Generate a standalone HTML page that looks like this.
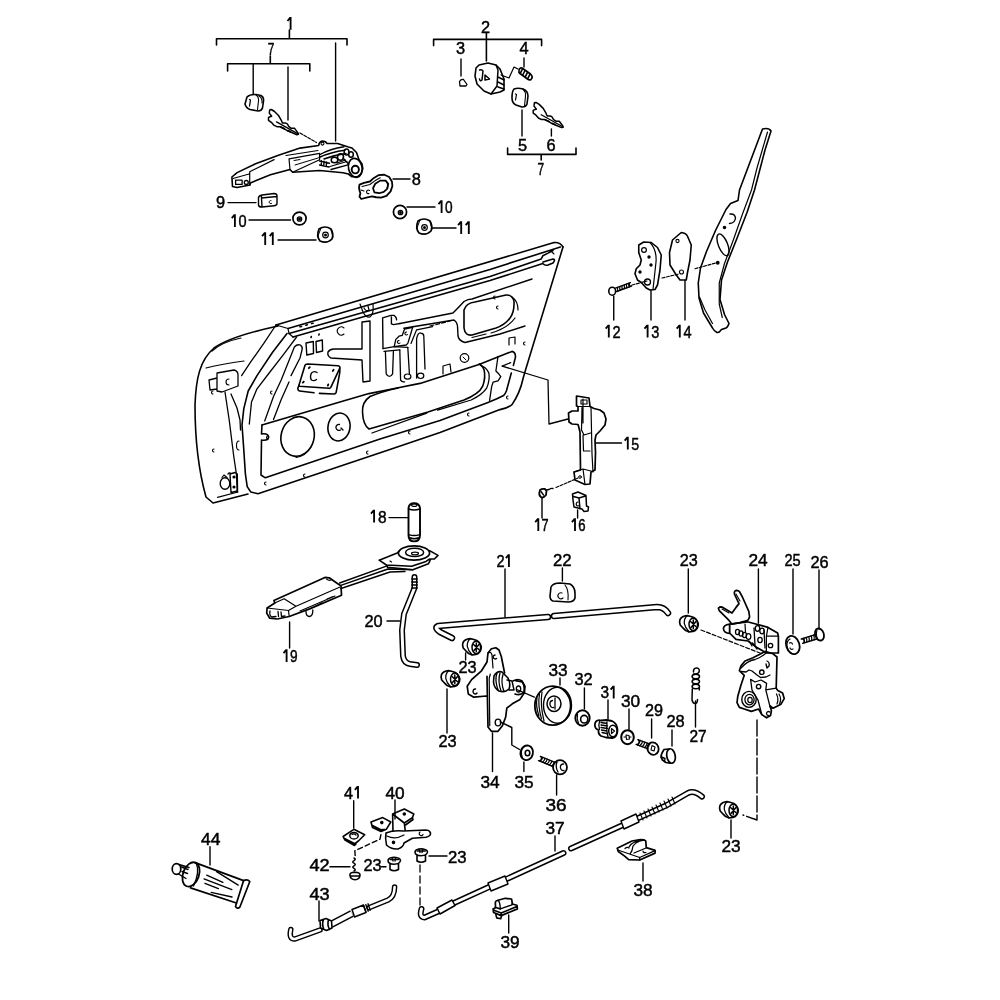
<!DOCTYPE html>
<html><head><meta charset="utf-8"><style>
html,body{margin:0;padding:0;background:#fff;width:1000px;height:1000px;overflow:hidden}
svg{display:block;will-change:transform}
text{font-family:"Liberation Sans",sans-serif;font-size:16.4px;fill:#000;stroke:#000;stroke-width:0.45px}
</style></head><body>
<svg width="1000" height="1000" viewBox="0 0 1000 1000">
<rect width="1000" height="1000" fill="#fff"/>
<g fill="none" stroke="#000" stroke-width="1.6" stroke-linejoin="round" stroke-linecap="round">
<!-- ===== Group 1: handle ===== -->
<path d="M216.5,45 V38.7 H347 V45 M289.4,30 V38.7"/>
<path d="M227.6,71 V63.7 H309.8 V71 M270.3,56 V63.7"/>
<path d="M253.2,64 V94 M288,67 V120 M335.6,43 V141" stroke-width="1.4"/>
<!-- key cap -->
<path d="M247,97 Q250,94 256,94.5 L261,95.5 Q264,97 263.5,101 L262.5,108 Q261.5,111 258,111 L250,109.5 Q246,108 245,104 Z"/>
<path d="M256,95 Q259,97 258.5,101 L257.5,109.5 M259,96 Q262.5,98 262,103" stroke-width="1.1"/>
<path d="M249.5,99.5 L250.5,100 L249.5,106" stroke-width="1.3"/>
<!-- key blade -->
<use href="#keyshape" transform="translate(-264.7,7.1)"/>
<path d="M300,133 L316.5,142.5" stroke-width="1.2" stroke-dasharray="3,1.5"/>
<!-- handle -->
<path d="M231.9,177 L232.5,186.5 L237,187.5 L250,185 L250.4,182.9 L270.4,174.8 L290,169.5 L292.6,172.3 L319.6,170.5 L343,172.75 L348.4,174 L352,176.8 L357.4,176.8 L361,174 L362.8,168.7 L362,164 L359,159.7 L356.5,152.5 L352,148 L348.4,147 L343,145.3 L337.6,143.5 L327,143.5 Q326,141 322,141 Q319,142 318.7,145.5 L300,148.1 L277.8,155.5 L255.6,163.7 L237.1,172.6 Z"/>
<path d="M233,178.5 L249,174 M249.7,172 L249.7,184.5 M249.7,171.8 L274.1,159.6 M286,155.5 L318,150.5 M289,158.8 L319.6,153.4 L319.6,159.7 L292.6,172.3 M289,158.8 L290,169.5" stroke-width="1.2"/>
<path d="M295,165 L318,158 M294,160.5 L300,159.5" stroke-width="1"/>
<path d="M235.6,180.2 h6.5 v4.2 h-6.5 z" stroke-width="1.3"/>
<circle cx="246.3" cy="182.5" r="2" stroke-width="1.3"/>
<ellipse cx="355.3" cy="167.8" rx="6.8" ry="9.6" transform="rotate(-12 355.3 167.8)" stroke-width="1.7"/>
<ellipse cx="355.3" cy="169.6" rx="3.6" ry="3.8" stroke-width="1.9"/>
<path d="M320,154.5 Q330,149 344,146.8 M319,157.5 Q331,152 345,150.3 M324,159 Q334,155 346,153.5" stroke-width="1.4"/>
<ellipse cx="346.5" cy="152" rx="2.4" ry="3" stroke-width="1.5"/>
<ellipse cx="351" cy="154.5" rx="2.3" ry="2.8" stroke-width="1.5"/>
<ellipse cx="340.5" cy="157" rx="3" ry="3.3" stroke-width="1.5"/>
<ellipse cx="334.5" cy="160" rx="3.3" ry="2.8" stroke-width="1.5"/>
<path d="M319.5,161 L329.5,163.2 M319.5,165 L329,167 M321.5,160.8 L321.2,165.3 M324,161.3 L323.8,165.8 M326.5,161.9 L326.3,166.3" stroke-width="1.4"/>
<path d="M330,166.5 L347,161.5 M331,169.5 L348,164.8 M343,158 L348,163.5 M337,163 L345.5,160" stroke-width="1.3"/>
<circle cx="322.5" cy="143.6" r="1.5" stroke-width="1.1"/>
<!-- part 8 -->
<path d="M393,179 H410" stroke-width="1.4"/>
<path d="M359.5,184.7 L364,182.9 L369.9,181.5 L373.9,177.9 L378.4,175.2 L384.3,174.75 L389.2,177 L391.9,181.5 L392.4,186 L390.6,191.4 L386.5,195.9 L381.1,197.7 L376.2,197.25 L372.1,196.35 L366.3,197.7 L361.3,199 L359.5,196.8 L360.4,193.2 L359.5,190.5 L359,187.4 Z" stroke-width="1.8"/>
<path d="M373,188.25 L375.25,183.75 L380.2,180.6 L385.6,180.6 L388.3,183.75 L387.4,188.7 L383.8,191.85 L379.3,193.2 L374.35,192.3 Z" stroke-width="1.7"/>
<path d="M362,186.5 L369.9,184.5 L375.25,180.6 L380.2,177.8 M386,181 Q388.5,184 387,188" stroke-width="1.1"/>
<path d="M369.5,190.5 A1.8,1.8 0 1 0 369,193.5 M361,190 L364,191" stroke-width="1.1"/>
<!-- part 9 -->
<path d="M228,202.6 H256" stroke-width="1.4"/>
<path d="M258.5,197.5 Q259,195.5 262,195 L274,193.5 Q277,193.5 277,196 L277,203.5 Q277,205.5 274,205.8 L262,207 Q259,207.3 258.5,205 Z M262,195 Q261,196.5 261.5,198 L262,207 M261.5,198 L276.5,196.5" stroke-width="1.4"/>
<path d="M271,200.5 A1.6,1.6 0 1 0 271.5,203.5" stroke-width="1"/>
<!-- washers/nuts -->
<path d="M249,220 H290.5 M278,240 H316 M407,207 H435 M432,228 H456" stroke-width="1.4"/>
<ellipse cx="299.5" cy="218.5" rx="6.6" ry="6.4" stroke-width="1.7"/>
<circle cx="299.5" cy="219" r="2.2" stroke-width="1.3"/>
<circle cx="299.5" cy="219" r="0.7" fill="#000"/>
<ellipse cx="400" cy="212" rx="6.6" ry="6.6" stroke-width="1.7"/>
<circle cx="400.5" cy="212.5" r="2.2" stroke-width="1.3"/>
<circle cx="400.5" cy="212.5" r="0.7" fill="#000"/>
<path d="M319,229 Q325,225 331,229 Q334,234 332,239 Q327,244 320,241 Q316,236 319,229 Z" stroke-width="1.7"/>
<path d="M321,228 L318,236 M331,230 L333,237" stroke-width="1"/>
<circle cx="325.5" cy="235" r="2.8" stroke-width="1.2"/>
<circle cx="325.5" cy="235" r="0.7" fill="#000"/>
<path d="M418,221 Q424,217 430,221 Q433,226 431,231 Q426,236 419,233 Q415,228 418,221 Z" stroke-width="1.7"/>
<path d="M420,220 L417,228 M430,222 L432,229" stroke-width="1"/>
<circle cx="424.5" cy="227.5" r="2.8" stroke-width="1.2"/>
<circle cx="424.5" cy="227.5" r="0.7" fill="#000"/>
<!-- ===== Group 2: lock ===== -->
<path d="M433.6,45.6 V39.4 H541.6 V45.6 M486.4,33 V39.4 M486.4,39.4 V61"/>
<path d="M461,59 V76 M524,58 V67 M522,110 V136 M551.4,129 V136" stroke-width="1.4"/>
<path d="M507.6,148 V154.4 H576 V148 M541.2,154.4 V160"/>
<path d="M460,86 L459.5,81.5 Q461,79 463.5,79.5 L467,84.5 L466,86 Z" stroke-width="1.3"/>
<path d="M476,68 L479,65 L488,63 L496,65 L500,69 L504,79 L504,90 L500,92 L491,94 L484,91 L477,84 L475,76 Z"/>
<path d="M479.5,70 Q482,69 483,71 L482,80 Q480,82 479.5,79 M485,75 L489.5,79 L485,80 Z M496,65 L498,70 L497,86 L491,94 M498,77 L504,80 M498,82 L504,85 M498,87 L504,89" stroke-width="1.5"/>
<path d="M501,75 L509,78 L514,67 L518,69" stroke-width="1.2"/>
<path d="M519,70.5 Q519.5,67.5 522,68 L530.5,74 Q533.5,77 531,79.5 Q529.5,80.5 527.5,79 L520,73.5 Q518.5,72.5 519,70.5 Z" stroke-width="1.7"/>
<path d="M522.5,68.8 L520.5,72.8 M525,70.5 L523,74.5 M527.5,72.3 L525.5,76.3 M530,74.2 L528,78.2" stroke-width="1.6"/>
<path d="M514,89 Q518,87.5 523,89 Q528,91 528,96 L527,104 Q526,107 522,107 L516,105 Q512,103 512,98 Q512,91 514,89 Z"/>
<path d="M523,89 Q526,92 525.5,96 L524.5,106" stroke-width="1.1"/>
<path d="M515.5,94 L516.5,94.5 L515.5,100" stroke-width="1.2"/>
<g id="keyshape"><path d="M534.4,102.8 L536,102.4 L539.2,104.4 L543.2,108.4 L546,113.2 L547.2,116 L550.4,116 L552,116.8 L553.6,119.6 L556,121.2 L559.2,121.2 L560.4,122.8 L562.8,126 L563.2,127.2 L561.6,127.6 L556,125.2 L552,123.6 L548,121.2 L544.8,119.6 L541.6,119.6 L538.4,118 L536,115.2 L533.2,113.2 L533.2,110.4 L534.8,109.6 L536.4,109.2 L535.2,107.6 L534,106 Z" stroke-width="1.5"/><path d="M541.2,114.8 L562.8,126.8" stroke-width="1.3"/><path d="M545.5,120 L549,121.5 M552.5,123.5 L555,124.5" stroke-width="1.8"/></g>
<!-- ===== pillar + 12-14 ===== -->
<path d="M762.5,129 Q769,127.5 771,131 L765,150 L754.5,190 L747,212.5 L736.5,239.5 L727.5,262 L721.5,280 L720,299.5 L724.5,314.5 L729,323.5 Q727.5,327.5 726,328 L721.5,329.5 Q719,333 717,332.5 Q714,331 712.5,328 L703.5,313 L699,298 L698.25,283 L700.5,268 L706.5,251.5 L715.5,230.5 L726,209.5 L730.5,203.5 L738,200.5 L739.5,190 Z" stroke-width="1.6"/>
<path d="M767.5,132 L757,168 L751.5,190 L742.5,214 L733.5,239.5 L724.5,263.5 L719.25,283 L719.25,304 L722.25,317.5 M699.5,297 L705,310 L712.5,323.5" stroke-width="1.2"/>
<path d="M730,214 Q735,213.5 735.5,218 Q735,223 729.5,223.5" stroke-width="1.4"/>
<ellipse cx="723" cy="244.8" rx="4.6" ry="11.6" transform="rotate(-22 723 244.8)" stroke-width="1.4"/>
<circle cx="724.5" cy="227.5" r="1" fill="#000"/>
<circle cx="717.75" cy="262.75" r="1.1" fill="#000"/>
<path d="M672.5,240 L681.25,232.5 Q686,233 687.5,236.25 L691.25,245 L690,260 L687.5,272.5 L686.25,280 L680,280 L676.25,275 L670,265 L669.5,252.5 Z"/>
<circle cx="677.5" cy="241" r="1.6" stroke-width="1.1"/>
<circle cx="681.5" cy="272" r="2" stroke-width="1.1"/>
<path d="M638.75,245 L643.75,242 L651.25,242.5 L657.5,247.5 L661.25,255 L660,270 L657.5,285 L655,289.5 L650,290 L646.25,288 L641.25,282.5 L637.5,280 L635,273.75 L636.25,268.75 L640,265 L641.25,260 L638.75,252.5 Z"/>
<path d="M650,242.5 Q657,250 656,262 L653,289.5" stroke-width="1.2"/>
<circle cx="644" cy="250" r="2.4" stroke-width="1.2"/>
<circle cx="647.5" cy="282" r="3" stroke-width="1.3"/>
<circle cx="649" cy="257" r="0.9" fill="#000"/><circle cx="651" cy="265" r="0.9" fill="#000"/><circle cx="640" cy="272" r="0.9" fill="#000"/>
<path d="M632,285 L647,281 M662,278 L679,274 M695,268.75 L717.5,262.5" stroke-width="1.2" stroke-dasharray="3,1.5"/>
<path d="M613.75,296 V320 M651,290.5 V320 M685,280.5 V320" stroke-width="1.4"/>
<!-- ===== part 15-17 ===== -->
<path d="M502.2,366.1 L548,380 L549,424 L568,419" stroke-width="1.3"/>
<path d="M596,443 H621.5" stroke-width="1.4"/>
<path d="M576.5,396 L589,398 L590,406.5 L591,407 L594,408.5 L600,410 L604,413 L606,419 L605,425 L600,431 L596,435 L595,440 L595.5,453 L595,470 L591,472 L590,484 L585,484.5 L575,480 L574,472 L580.5,470 L580,432 L578.5,426 L578,424.5 L572,424 L569,422 L568.5,413 L572,411 L578,411 L578,406.5 L576.5,406 Z" stroke-width="1.7"/>
<path d="M578,406.5 L590,406.5 M591,407 L592,454 L593,472 M582,407.5 L581.5,430 L584,435 L590.5,433 M583,399 L583,423 M583,435 L583.5,451 L590,451 M574,472 L583,469 L591,471 M583,469 L585,484.5" stroke-width="1.2"/>
<path d="M581,400 L587,400 L587,404 L581,404 Z" stroke-width="1.1"/>
<circle cx="580" cy="477" r="1.3" stroke-width="1"/>
<path d="M540,490 Q542,488.5 545,489 L546.5,491 L546,495 Q544,497.8 541.5,497.5 Q539,496 539.3,493 Z" stroke-width="1.8"/>
<path d="M541,491.5 L543.5,495 M546.5,490 L549,489.5 Q551,488 553,488.5" stroke-width="1.3"/>
<path d="M556,487.5 L578,478" stroke-width="1.2" stroke-dasharray="3,1.5"/>
<path d="M542,498 V518 M577.6,510 V518" stroke-width="1.4"/>
<path d="M572.5,494 L578,492 L586,495.5 L586.5,506 L588.5,507 L588,511 L584,511.5 L582,509 L574,507 L573,500 Z M573.5,496.5 L579,498 L585.5,496 M579,498 L580,509" stroke-width="1.5"/>
<path d="M578,502 a1.6,2 0 1 0 0.5,3.8" stroke-width="1.2"/>
<!-- ===== DOOR ===== -->
<!-- outer skin -->
<path d="M278,326 C255,331 228,338 214,348 C200,360 196,378 195,405 C195,440 199,472 206,497 L213,503 L217,502 L248,494"/>
<path d="M212,351 Q222,342 241,338 M206,368 Q222,364 244,361 M217.5,497.4 L238,492" stroke-width="1.2"/>
<!-- top frame lines -->
<path d="M276,325 L554,242.6 Q560,242 563,247 M288,328.5 L490,269.4 L560.4,247 M289,333.5 L490,276.6 L541.2,259 L542.8,255.8 L547.6,253.4 L553,250.5 M293,337 L490,280.6 L542.8,263.5 Q545,266 548,265 L553,263 Q556,259 553,259 L543,262"/>
<path d="M276,325 L288,328.5 L289,333.5 L293,337" stroke-width="1.2"/>
<path d="M551,251 L554,254" stroke-width="1.1"/>
<!-- right edge and bottom -->
<path d="M563,247 L525.5,370 L523.2,378 Q520,393 512,404.6 Q507,408.5 500,409.6 L440,432.4 L388.4,450 L258,493.8 L250.8,492 L247.2,486.6 L245.4,474 L243.6,447 L242,425 L243.8,408.6 L248.2,391 L257,375.6 L272.4,352.5 L287,333.5"/>
<path d="M276,325 L263.6,343.7 L250.4,362.4 L241.6,375.6 M225,392 L229.2,420 L233.7,456 L236.4,474 L237.3,492 M231,394 L237,408 L240,420 L240.5,430" stroke-width="1.3"/>
<path d="M296.6,337 L283.4,354.7 L268,374.5 L257,388.8 L251.5,402 L249.3,424" stroke-width="1.3"/>
<!-- hinges -->
<path d="M217,373 L234,370 Q238,371 238,375 L238,386 L222,392 L217,391 Z M209,380 L217,378 L217,389 L210,390 Z" stroke-width="1.3"/>
<path d="M229,379 A3,3 0 1 0 229,385" stroke-width="1.1"/>
<path d="M230,474 L235,472.5 L237.3,474 L237.5,491 L231,492.5 Z M231,473.5 Q229,472 228,474" stroke-width="1.4"/>
<ellipse cx="225" cy="483.5" rx="4.8" ry="5.8" stroke-width="1.4"/>
<path d="M222,477.5 L224,475 L227,477.5" stroke-width="1.2"/>
<circle cx="234" cy="477" r="0.8" fill="#000"/><circle cx="234" cy="487" r="0.8" fill="#000"/>
<!-- slot near pillar -->
<path d="M264.7,421 L273.5,396.5 L281.2,380 L290,358 L294.4,347 Q297,344 300.4,345 Q303,347 302,350 L300,358 L291,375.6 M289,382 L281,400 L273.5,419.6" stroke-width="1.3"/>
<!-- lower panel with speaker -->
<path d="M262,425 L261.5,434 Q268,433 268.7,437 Q268,441 261.5,440 L261,475 L265.3,477.8 L380,439 L440,420.4 L488,402.4 Q498,398.5 503.6,395.5 Q505,394.5 506.4,391 L511.3,373"/>
<path d="M262,425 L345,400.4 L369,393.6 L394.5,388.5 L420,383.4 L479,364.5 L512,351.4 Q515.5,352 515.5,357 L513.4,365.4"/>
<ellipse cx="297.6" cy="436.5" rx="16.5" ry="20" transform="rotate(15 297.6 436.5)"/>
<path d="M311,447 Q306,456 296,457.5" stroke-width="1.1"/>
<ellipse cx="339" cy="427" rx="11" ry="14" transform="rotate(10 339 427)"/>
<path d="M339.5,424.5 A3,3 0 1 0 340.5,430 M341,428 l2,2" stroke-width="1.3"/>
<!-- big oval -->
<path d="M398,388 Q382,391.5 370,396.5 Q362,402 362.5,412 Q363,425 369,429 L428,412 L464,400 Q479,394 482.6,386.4 Q486,377 484,369.6 Q482,365 479,364"/>
<path d="M372,433 L426.8,413.2 M437.6,410.2 L471.2,400 Q483,394 486.8,387.8 Q490,380 488.9,373.1 Q486,367 480.5,365.4" stroke-width="1.3"/>
<path d="M498,356.3 L495.9,371 L498.7,373.8 L500.8,376.6 L498,380.8 L493.1,382.2 L491.7,386.4 L489.6,400.4" stroke-width="1.3"/>
<path d="M502.2,366.1 L510.6,362.6" stroke-width="1.3"/>
<!-- T cutout -->
<path d="M362,322 L370,321 L370,381 L363,382 L362,360 L331,358 Q327,356 328,352 Q330,349 334,349 L362,349 Z" stroke-width="1.4"/>
<!-- clip on top frame -->
<path d="M360,304 L363,312 Q366,318 370,317 Q374,314 373,304 M364,308 Q366,312 369,310 M368,306 L369,310" stroke-width="1.2"/>
<!-- mirror plate -->
<path d="M305,365.2 Q306,364 308,364 L338,365.8 Q340.5,366.5 339.8,368.2 L330.8,387.4 Q330,388.5 329,388.3 L299.6,386.2 Q298.6,385.6 299,385 Z" stroke-width="1.6"/>
<path d="M299,385 L297.8,388.6 Q298,390.8 299.6,391 L314,392.8 M319.4,393.4 L333.8,394 Q335.8,393.8 336.2,392.2 L339.8,372.4 L339.8,368.2" stroke-width="1.6"/>
<path d="M317,372.5 Q314,370.5 311.5,373 Q309.5,377 311.5,380 Q314,381.5 316.5,379.5" stroke-width="1.4"/>
<path d="M308.8,368.2 l1,-1 M332.8,371 l0.8,-1.2 M302.8,382.6 l1,-1 M327.8,385.6 l0.5,-1.2" stroke-width="1.8"/>
<!-- small rects -->
<path d="M306,343 L313.3,341.5 L313.5,353.5 L306.8,355 Z M316,341.5 L322.3,340 L322.6,351 L316.5,352.5 Z" stroke-width="1.4"/>
<path d="M311,337.5 l0.3,-1 M318.8,335 l0.3,-1 M300,326.8 l1.5,-0.4 M305.8,325.2 l1.5,-0.4 M311.6,323.6 l1.5,-0.4" stroke-width="1.6"/>
<path d="M344,328 A4,4 0 1 0 344,334" stroke-width="1.1"/>
<!-- window regulator bracket -->
<path d="M383,348.6 L382.6,317.8 L391,315.4 L394.2,315.4 L396.2,317.8 L396.6,319.8 M391.4,317 L391.4,323.8 L393.4,324.6 L400,323.5" stroke-width="1.4"/>
<path d="M394.2,346.6 L395.8,339.4 L399,336.2 L402.2,335.4 L404.6,329 L412.6,327.4 L411,333 L407.8,343.4 L406.2,345 Z" stroke-width="1.3"/>
<path d="M406.5,332 a1.5,1.5 0 1 0 1,2.5 M399,340.5 a1.5,1.5 0 1 0 1,2.5" stroke-width="1.1"/>
<path d="M383,348.6 L394.2,346.6 L407.8,347.4 M384,351.4 L399.8,349.8 M411,343.4 L416.6,329.8 L432.6,326.6" stroke-width="1.2"/>
<path d="M385.4,351.4 L386.2,373.8 Q389.4,379 392.6,373.8 L393.4,351.4 M399.8,349.8 L400.6,380.2 Q402,382.5 404.6,381.8 M407.8,347.4 L409.4,373.8 M416.6,378 L416.6,338.6 Q418,332.5 420.6,333 Q423.8,333.5 423.8,336 L425,369" stroke-width="1.3"/>
<ellipse cx="407.6" cy="376.6" rx="3.3" ry="2.6" stroke-width="1.2"/>
<ellipse cx="420.6" cy="375.8" rx="3.2" ry="2.7" stroke-width="1.2"/>
<!-- upper oval (window) -->
<path d="M464,310 Q466,303 475,302 L506,295 Q512,294.5 514,301 Q514.5,312 510,318 Q505,325 496,328 L472,335 Q465,336 464,328 Z"/>
<path d="M400,323.5 L453,313 Q460,306 464,301.5 Q468,299 472,299 L532,279 M403.8,328.2 L454,320 Q457,322 457.5,326 L458,336 Q459,341 465,342.5 L500,334 L525,326" stroke-width="1.4"/>
<path d="M512,297 Q518,301 518,310 M515,318 Q508,328 491,333 M472,337.5 L486,334" stroke-width="1.2"/>
<path d="M430,326 L450,321" stroke-width="1.2" stroke-dasharray="4,2"/>
<!-- misc holes -->
<circle cx="464.5" cy="358" r="4.3" stroke-width="1.2"/>
<path d="M463,357 l3,3" stroke-width="1"/>
<path d="M443,374 L443,366 L450,364 L451,372" stroke-width="1.2"/>
<path d="M509,345 L509,338 L515,337 L515,344" stroke-width="1.2"/>
<!-- small c marks -->
<path d="M213,391 a1.5,1.5 0 1 0 0,3 M214,449 a1.5,1.5 0 1 0 0,3 M272,391 a1.5,1.5 0 1 0 0,3 M268,436 a1.5,1.5 0 1 0 0,3 M266,482 a1.5,1.5 0 1 0 0,3 M305,474 a1.5,1.5 0 1 0 0,3 M368,451 a1.5,1.5 0 1 0 0,3 M410,431 a1.5,1.5 0 1 0 0,3 M469,413 a1.5,1.5 0 1 0 0,3 M508,396 a1.5,1.5 0 1 0 0,3 M495,296 a1.5,1.5 0 1 0 0,3 M498,306 a1.5,1.5 0 1 0 0,3 M525,342 a1.5,1.5 0 1 0 0,3 M239,441 a2.5,4.5 0 1 0 0,9" stroke-width="1.1"/>
<defs>
<g id="bush" fill="none" stroke="#000" stroke-linejoin="round" stroke-linecap="round">
 <path d="M1,4.5 Q3,1 8,0.7 L12,1.5 Q18,3 19.3,9 Q19,15 14,16.5 L10,16.8 Q6,16 4,13 L1.2,10 Q0,7 1,4.5 Z" stroke-width="1.7"/>
 <path d="M8,0.7 Q4.8,4 5.3,8.5 Q6,12.5 10,16.8" stroke-width="1.3"/>
 <ellipse cx="14.3" cy="9.3" rx="4.3" ry="6.3" stroke-width="1.5"/>
 <path d="M11.5,6.5 L16.8,11.5 M12,12.5 L17,6.5 M14.3,5 V13.5" stroke-width="1.5"/>
</g>
</defs>
<!-- ===== 18,19,20 ===== -->
<path d="M389,517.6 H408 M289.6,622 V648 M387,621 H400" stroke-width="1.4"/>
<path d="M408.5,508 Q409,503.2 414,503.2 Q419.5,503.2 420,508 L420,535 Q420,541.4 414,541.4 Q408.5,541.4 408.5,535 Z" stroke-width="1.9"/>
<path d="M408.7,509 Q414,511 419.8,509 M408.7,534.6 Q414,536.5 419.8,534.6 M409.5,537.8 Q414,539.5 419,537.8" stroke-width="1.5"/>
<ellipse cx="414.3" cy="505.2" rx="2.7" ry="1.2" stroke-width="1.2"/>
<!-- 19 lever -->
<path d="M273.9,600.4 L324.9,577.4 L329.2,577.8 L338.5,584.2 L341,585.9 L341.5,595.3 L309.6,608.9 L289.2,616.5 L277.3,619 L269.7,618.2 L266.7,613.1 L267.1,608 L274.8,603 Z" stroke-width="1.7"/>
<path d="M267.1,608 L288.5,610.5 L289.2,616.5 M274.8,603 L284.1,598.7 L296,606.3 L288.5,610.5 M296,606.3 L340,587 M300,611 L335,596 M316,606 L322,603 M327,599 L333,596.5 M326.5,579 Q329,581 331,580" stroke-width="1.2"/>
<path d="M270,611 Q269,616 272,617 L276,616.5 M278,611.5 L278.5,616.5 M281,612 L281.5,616.5 L285,616" stroke-width="1.3"/>
<path d="M306,611.5 Q306,616.5 309.5,616.5 Q313,616 312.8,610" stroke-width="1.3"/>
<path d="M339.6,583 L386.4,566.2 M340.8,585.4 L388,569 L412.8,569.8 M341,588.5 L390,572 L405,571.5" stroke-width="1.4"/>
<path d="M379.2,560.2 L397.2,553 L399.6,550.6 M429.6,550.6 L438,555.4 L434.4,559 L430.8,559 M379.2,560.2 L386.4,565 L411.6,566.2 L426,561.4 L429.6,559 M386.4,565 L387.6,567.4 L412.8,569.8 L428.4,563.8 L430.8,559" stroke-width="1.6"/>
<ellipse cx="414" cy="553" rx="15.6" ry="7.2" stroke-width="1.7"/>
<ellipse cx="414.6" cy="552.4" rx="9" ry="4.2" stroke-width="1.5"/>
<ellipse cx="415" cy="553.5" rx="3.5" ry="1.3" stroke-width="1.2"/>
<path d="M390,561 l1.5,1" stroke-width="1.2"/>
<!-- rod 20 tube -->
<path d="M414.5,577 L414.5,588 L404,614 L402,630 L403,656 Q404,663 410,664 L417,665" stroke="#000" stroke-width="6" stroke-linecap="round"/>
<path d="M414.5,577 L414.5,588 L404,614 L402,630 L403,656 Q404,663 410,664 L417,665" stroke="#fff" stroke-width="3" stroke-linecap="round"/>
<path d="M411.8,579 h5.4 M411.8,582 h5.4 M411.8,585 h5.4 M411.8,588 h5.4" stroke-width="1.4"/>
<!-- ===== 21 rod ===== -->
<path d="M505,569 V617 M562.4,568 V581" stroke-width="1.4"/>
<path d="M452,638 L440,632 Q434,628 438,626 L548,617 M554,616 L657,607 Q664,607 668,613" stroke="#000" stroke-width="6.5"/>
<path d="M452,638 L440,632 Q434,628 438,626 L548,617 M554,616 L657,607 Q664,607 668,613" stroke="#fff" stroke-width="3.5"/>
<!-- 22 block -->
<path d="M551,587 Q553,583 560,583 L570,584 Q575,587 575,593 L575,598 Q574,602 568,602 L553,601 Q550,600 550,596 Z"/>
<path d="M565,585 Q569,590 568,600 M562,593 A3,3 0 1 0 563,598" stroke-width="1.1"/>
<!-- bushings 23 -->
<use href="#bush" x="462" y="638"/>
<use href="#bush" x="440.5" y="670"/>
<use href="#bush" x="679" y="615"/>
<use href="#bush" x="719" y="801"/>
<path d="M465.6,653 V660 M447,689 V733 M688.3,569 V613 M731,820 V838" stroke-width="1.4"/>
<path d="M701,630 L760,653" stroke-width="1.2" stroke-dasharray="4,2"/>
<!-- ===== 34 plate, 33 pulley ===== -->
<path d="M488,653 L491.4,648.8 L495.8,647.7 L499,650 L501.3,656.5 L503.5,667.5 L504.6,673 M488,653 L487,662 L481.5,670.8 L471.6,679.6 L467.2,686.2 L468.3,694 L473.8,697.2 L486.5,696 M487,676.3 L488,727 L491.4,731.3 L498,731.3 L502.4,725.8 L505.7,717 L506.8,708.2 L512.3,703.8 L520,699.4 L524.4,692.8 L525,686.2 L522.2,681.8 L515.6,680.7" stroke-width="1.7"/>
<path d="M490.3,674 L489.2,678.5 L489.75,725.8 M488,653 Q491,651 492,655 L493,668" stroke-width="1.2"/>
<path d="M495,655 a2,2 0 1 0 1.5,3.5 M475.5,689 a2.2,2.5 0 1 0 1.5,4 " stroke-width="1.4"/>
<ellipse cx="498" cy="722.5" rx="2.8" ry="3.4" stroke-width="1.4"/>
<path d="M500.2,721.8 L511.8,727.5 L511.8,745 L519.5,749.5" stroke-width="1.4"/>
<!-- shaft assembly -->
<path d="M494,676 Q497,670.5 502,672 L508,678 Q511,684 509,689 Q505,693 499,691 Q494,688 493.5,682 Z" stroke-width="1.6"/>
<path d="M497,673 Q494.5,680 498,690 M500,673 Q497.5,681 501,691 M503,674.5 Q500.5,682 504,691.5" stroke-width="1.3"/>
<path d="M507,680 L512,681 L514,690 L509,690" stroke-width="1.4"/>
<path d="M513,681 Q518,678 522,681 Q525,686 524,692 Q520,696 515,694" stroke-width="1.6"/>
<ellipse cx="518.5" cy="689" rx="2.2" ry="3" stroke-width="1.3"/>
<path d="M516.7,689.5 L534.3,697.2" stroke-width="1.3"/>
<ellipse cx="552.75" cy="705.7" rx="17.9" ry="19.5" stroke-width="1.8"/>
<ellipse cx="557.5" cy="705.2" rx="14" ry="18" stroke-width="1.4"/>
<ellipse cx="554" cy="703.8" rx="7" ry="7.7" stroke-width="1.5"/>
<path d="M552.5,700.5 A3,3.5 0 1 0 553.5,707.5 M555,698 L555,709" stroke-width="1.3"/>
<path d="M537,698 Q535.5,706 539,716 M539.5,694 Q537.5,705 541.5,719 M542,692 Q540,705 544,721" stroke-width="1.2"/>
<path d="M560,678 V685 M584.4,688 V709 M608,700 V719" stroke-width="1.4"/>
<!-- 32 nut -->
<ellipse cx="582.5" cy="718" rx="7.2" ry="7.7" stroke-width="1.9"/>
<ellipse cx="584.2" cy="719.2" rx="3.6" ry="3.8" stroke-width="1.6"/>
<path d="M577.5,714 Q576.5,719 578.5,723" stroke-width="1.2"/>
<!-- 31 -->
<path d="M596,721.5 Q598,719.5 601,720.5 L606.5,720 L612,721 Q617,723 617.5,730 Q617.5,737 612.5,738 L606,737.5 L601,736 Q598,734 598.5,730 Q595,729 594.8,725 Q595,722.5 596,721.5 Z" stroke-width="1.8"/>
<path d="M599.7,721 Q598,725 599.5,729.5 M601,722.5 L607,723.5 M601,725 L607.5,726 M601,727.5 L607.5,728.5 M601.5,730 L607,731 M602,732.5 L606.5,733.5 M607,722 Q606,730 608,737" stroke-width="1.3"/>
<ellipse cx="612.9" cy="731" rx="4.2" ry="5.8" stroke-width="1.5"/>
<path d="M611.5,728.5 L614.5,731 L611.5,733.5 Z" stroke-width="1.2"/>
<!-- 34/35 leaders -->
<path d="M492.5,733 V771.5 M523.9,762 V771.5" stroke-width="1.4"/>
<ellipse cx="526.7" cy="752.8" rx="6.2" ry="7.4" transform="rotate(15 526.7 752.8)" stroke-width="1.9"/>
<ellipse cx="527.5" cy="753" rx="2.3" ry="2.8" stroke-width="1.6"/>
<path d="M522,749 Q520.5,753 522.5,758" stroke-width="1.2"/>
<path d="M556.6,775 V795" stroke-width="1.4"/>
<!-- ===== latch 24 ===== -->
<path d="M758.4,569 V623 M793,569 V634 M819,570 V629 M695.5,701 V727 M672,730 V746 M651.6,719 V738 M629,709 V730" stroke-width="1.4"/>
<path d="M757,720 V820 L743,815" stroke-width="1.4" stroke-dasharray="16,3"/>

<!-- fork lever -->
<path d="M718.4,608.2 L720,606.8 L722.4,607.2 L732,613 L736,607.4 L739,603.6 L734.4,594 Q734,590.6 736.4,590.4 Q738.6,590.4 739.6,591.8 L742.4,597 L748.8,611.4 L749.6,617 L748,620.2 L740,622.6 L732,624.2 L728.8,620.2 L719.2,610.6 Z" stroke-width="1.7"/>
<path d="M736,594 L740,601 M722,609 L729,613" stroke-width="1.1"/>
<!-- main body -->
<path d="M729.6,624.2 Q723,625 723.5,629 Q724,633 729.6,633.5 M729.6,624.2 L747.2,621.8 L756.8,624.2 L768,627.4 L777.6,633 L778.4,636.2 L778.4,653 L766.4,653 L756.8,647.4 L748,641 L736,639.4 L729.6,633 Z" stroke-width="1.7"/>
<path d="M729.6,624.2 L729.6,633 M745,624 L745.5,632 M766.4,636.2 L778.4,636.2 M766.4,636.2 L766.4,653 M768,627.4 L766.4,636.2" stroke-width="1.2"/>
<circle cx="770.5" cy="645.5" r="2.2" stroke-width="1.3"/>
<ellipse cx="737.5" cy="632" rx="2" ry="2.6" stroke-width="1.3"/>
<ellipse cx="741" cy="633.5" rx="2" ry="2.6" stroke-width="1.3"/>
<ellipse cx="744.5" cy="635" rx="2" ry="2.6" stroke-width="1.3"/>
<ellipse cx="748.5" cy="636.5" rx="2.3" ry="2.9" stroke-width="1.3"/>
<ellipse cx="757.5" cy="628.5" rx="2.2" ry="2.8" stroke-width="1.3"/>
<ellipse cx="762" cy="631" rx="2.2" ry="2.8" stroke-width="1.3"/>
<ellipse cx="760" cy="640" rx="2.2" ry="2.6" stroke-width="1.3"/>
<path d="M754,628 L755,645 M764,630 L765,648 M752.5,643 L757,649 M749,641 L752,646" stroke-width="1.3"/>
<!-- lower body -->
<path d="M739.4,670.6 L741,665.8 L745,661 L753,657.8 L759.4,654.6 L765,651.4 L773,653.8 L777,657 L776.2,688.2 L777.8,690.6 L782.6,693 L784.2,698.6 L781,704.2 L773,708.2 L769.8,705.8 L771.4,710.6 L770.6,715.4 L766.6,717.8 L761.8,714.6 L758.6,709 L751.4,711.4 L744.2,709 L739.4,707.4 L737,702.6 L737.8,696.2 L741,685 L744.2,675.4 Z" stroke-width="1.7"/>
<path d="M741,668 Q747,661 755,659.5 Q762,657 766,653 M741.5,671.5 L746,672 L749,670 L752,671 L757,675 L760.5,677.5 L766,677 L770,675 M750.6,679.4 L755,682 L761,680 L766.6,683.4 L765.8,689.8 L769.8,705.8 M765.8,689.8 L776.2,688.2 M750.6,679.4 L752,690 L758,700 L761.8,714.6 M767,661 Q770,662 769,666 L767,668 L766,664" stroke-width="1.3"/>
<ellipse cx="749" cy="699.4" rx="7.2" ry="8" stroke-width="1.4"/>
<ellipse cx="749.5" cy="699.6" rx="4.6" ry="5.2" stroke-width="1.3"/>
<ellipse cx="750" cy="700" rx="2.2" ry="2.6" stroke-width="1.2"/>
<circle cx="761.8" cy="672.2" r="2.2" stroke-width="1.4"/>
<circle cx="758.6" cy="686.6" r="2.2" stroke-width="1.4"/>
<path d="M769.8,712 a2,2 0 1 0 -1,3.5" stroke-width="1.3"/>
<path d="M779,694 Q782,699 779.5,704 M776.5,694 Q779,699 777,704" stroke-width="1.2"/>
<path d="M615.4,288.1 L630.4,282.6 A1.8,1.8 0 0 0 631.6,286.0 L616.6,291.5" stroke-width="1.4"/>
<path d="M629.0,283.1 Q628.3,285.3 629.3,286.9 M626.7,284.0 Q626.0,286.1 627.0,287.7 M624.5,284.8 Q623.8,287.0 624.8,288.5 M622.2,285.6 Q621.5,287.8 622.5,289.3 M620.0,286.4 Q619.3,288.6 620.3,290.2 M617.7,287.3 Q617.0,289.4 618.0,291.0" stroke-width="1.2"/>
<ellipse cx="612.2" cy="291.2" rx="3.4" ry="4" stroke-width="1.6"/>
<path d="M816.7,639.0 L802.7,643.4 A2.3,2.3 0 0 0 801.3,639.0 L815.3,634.6" stroke-width="1.4"/>
<path d="M804.1,642.9 Q804.8,640.3 803.7,638.3 M806.6,642.2 Q807.2,639.6 806.2,637.5 M809.1,641.4 Q809.7,638.8 808.7,636.7 M811.6,640.6 Q812.2,638.0 811.1,635.9 M814.0,639.8 Q814.7,637.2 813.6,635.1" stroke-width="1.2"/>
<ellipse cx="819.5" cy="634.5" rx="4.3" ry="6.2" transform="rotate(-20 819.5 634.5)" stroke-width="1.8"/>
<path d="M817,630 Q815.5,635 818,640" stroke-width="1.1"/>
<ellipse cx="792.75" cy="645" rx="6.6" ry="9.4" transform="rotate(-18 792.75 645)" stroke-width="1.8"/>
<path d="M790,639 Q786.5,641 787,646 Q788,651 791,653 M789.5,643 Q791.5,642 792.5,644 M790,648 Q791,650 793,649" stroke-width="1.2"/>
<path d="M648.1,748.9 L636.1,744.4 A2.6,2.6 0 0 0 637.9,739.6 L649.9,744.1" stroke-width="1.4"/>
<path d="M637.5,745.0 Q639.7,743.0 640.3,740.4 M639.8,745.8 Q642.1,743.9 642.6,741.3 M642.2,746.7 Q644.4,744.8 644.9,742.2 M644.5,747.6 Q646.7,745.7 647.3,743.1 M646.9,748.5 Q649.1,746.5 649.6,744.0" stroke-width="1.2"/>
<ellipse cx="653" cy="748.6" rx="5.6" ry="6.3" transform="rotate(-20 653 748.6)" stroke-width="1.8"/>
<path d="M652,745.5 L655,747 L654,751 L651,750 Z" stroke-width="1.1"/>
<ellipse cx="627.5" cy="737.2" rx="6.3" ry="7" stroke-width="2"/>
<path d="M626,735 L629,735.5 L629.5,739 L626.5,739.5 Z M624,737 h2 M629,737 h2" stroke-width="1.1"/>
<ellipse cx="671" cy="756" rx="4.2" ry="7.3" transform="rotate(-10 671 756)" stroke-width="1.7"/>
<path d="M668.5,749 L664,749.5 Q661,754 661,757 L662.5,760 L666,762.5 L670,763.2" stroke-width="1.7"/>
<path d="M661.5,757 L665,758.5 L664.5,761.5" stroke-width="1.4"/>
<path d="M553.1,766.6 L538.6,760.6 A2.3,2.3 0 0 0 540.4,756.4 L554.9,762.4" stroke-width="1.4"/>
<path d="M540.0,761.2 Q542.2,759.6 542.7,757.3 M542.3,762.2 Q544.5,760.6 545.0,758.3 M544.6,763.1 Q546.8,761.5 547.3,759.2 M546.9,764.1 Q549.1,762.5 549.6,760.2 M549.2,765.0 Q551.4,763.4 551.9,761.2 M551.6,766.0 Q553.7,764.4 554.2,762.1" stroke-width="1.2"/>
<ellipse cx="560" cy="767.3" rx="7" ry="7.1" stroke-width="1.8"/>
<path d="M557,762 Q555,767 558,772 M563.5,764 Q560,764 560.5,768 Q561,771 564,770.5" stroke-width="1.3"/>
<path d="M693.5,672 C693,667 699.5,666.5 699.3,671 C699.2,673.5 696,674 693.5,674" stroke-width="1.5"/>
<ellipse cx="695.8" cy="676.5" rx="3.7" ry="2.3" stroke-width="1.5"/>
<ellipse cx="695.8" cy="681.5" rx="3.7" ry="2.3" stroke-width="1.5"/>
<ellipse cx="695.8" cy="686.5" rx="3.7" ry="2.3" stroke-width="1.5"/>
<path d="M692.3,689 L692,700 Q693,704 695.5,703.5 Q697.5,703 697.5,699.5 M699.3,688.5 L699.3,690" stroke-width="1.5"/>
<!-- ===== rod 37 ===== -->
<path d="M555,836 V851 M643,863 V881 M508.7,915 V933" stroke-width="1.4"/>
<path d="M421.5,909 Q419,917.5 424.5,917.5 L437,912 L454,903 L490,886.6 L563.5,853 M571,848.5 L623,825 L666,805.6 L688,793 Q694,790 702,796.6" stroke="#000" stroke-width="6"/>
<path d="M421.5,909 Q419,917.5 424.5,917.5 L437,912 L454,903 L490,886.6 L563.5,853 M571,848.5 L623,825 L666,805.6 L688,793 Q694,790 702,796.6" stroke="#fff" stroke-width="3"/>
<path d="M437,908 L452,900 L455,905.5 L440,914 Z" stroke-width="1.5" fill="#fff"/>
<path d="M488,883 L505,876 L508,884 L491,891 Z M621,821 L636,814 L639,822 L624,829 Z" stroke-width="1.4" fill="#fff"/>
<path d="M640,813 l3,7 M644,811 l3,7 M648,809 l3,7 M652,807 l3,7 M656,805 l3,7 M660,803 l3,7 M664,801 l3,7 M668,799 l3,7 M672,797 l3,7" stroke-width="1.1"/>
<path d="M420,865 V906" stroke-width="1.3" stroke-dasharray="7,4"/>
<!-- 23 near rod 37 -->
<path d="M429,856 H447" stroke-width="1.4"/>
<g transform="translate(27,-8.5)"><path d="M388,860.5 Q388,857.5 394,857.2 Q400.5,857.5 400.5,860.5 Q400,864 394,864.2 Q388,864 388,860.5 Z M390,864 L390,869.5 Q394,872 398.5,869.5 L398.5,864" stroke-width="1.6"/>
<path d="M392,857.5 L393,861 M396,857.5 L395,861 M390,859.5 L398.5,859.5" stroke-width="1.3"/></g>
<!-- 38 clip -->
<path d="M617.2,848.2 L618.3,851.5 L624.3,855.9 L628.7,859.7 L639.7,860 L655.1,853.1 L655.1,850.4 L646.3,847.6 L645.75,841 L644.1,839.9 L640.25,839.6 L632,841 Z" stroke-width="1.7"/>
<path d="M617.8,850 L639.7,857.5 L655,850.6 M629,847 Q631,843.5 634.5,842 L644,840 M630,854 Q632.5,851 633,846 Q635,843 639,841.5 M634,853 L646,848 M639.7,857.5 L639.7,860" stroke-width="1.3"/>
<path d="M625,848.5 Q627,846.5 629,848 M643,851 Q643,853 646,852.5" stroke-width="1.2"/>
<!-- 39 -->
<path d="M495.5,907.5 L495.35,902 Q496,900.5 498,900.3 L505.25,898.3 L511.55,899 L512.45,904.2" stroke-width="1.7"/>
<path d="M498,900.3 Q500,902 500.3,908.5 M500.3,908.9 L512,904.85" stroke-width="1.4"/>
<path d="M493.1,908.9 L495.8,907.5 L500.3,908.9 M493.1,908.9 L493.55,912.5 L501.2,915.65 L517.4,908.9 L516.95,905.3 L512,904 M493.3,910 L501.2,913 L517,906.5 M501.2,913 L501.2,915.65" stroke-width="1.7"/>
<path d="M495.8,914.3 L496.7,917.9 L500.75,918.8 L501.65,915.65" stroke-width="1.6"/>
<!-- ===== 40-43 ===== -->
<path d="M353.7,800.7 V828 M395,800 V819 M330,866.7 H350 M381.5,866.7 H386 M319,901 V921" stroke-width="1.4"/>
<!-- 41 clip -->
<path d="M343.1,836.5 L353.9,829.3 L364.7,834.7 L358.4,841 L354.8,843.7 L344,838.3 Z M344,838.3 L345,840 L354.5,845.5 L356,844" stroke-width="1.6"/>
<ellipse cx="354" cy="835.7" rx="4.2" ry="3.3" stroke-width="1.5"/>
<path d="M352,834.5 Q354,833 356,835" stroke-width="1.2"/>
<!-- 40 bracket -->
<path d="M371,822 L382.7,817.6 L390.8,822 L386.3,829.3 L380.9,829.8 L371.9,825.3 Z M371.9,825.3 L372.5,827.5 L381,831.5 L386.3,829.3" stroke-width="1.6"/>
<path d="M392.6,814 L404.3,809 L413.8,814 L412.4,817.6 L404.3,823 Z M392.6,814 L393,831 M404.3,823 L405.2,830.2 M412.4,817.6 L413,819.5 L405.5,825" stroke-width="1.6"/>
<path d="M386,833 Q385,838 386.5,845 Q391,849.5 398,849 Q403.5,847 404,843 L412.4,838.3 L426,837.2 Q431,836 430.5,833 Q429.5,830 426,830 M386,833 Q393,830 403.4,831 L426,830" stroke-width="1.6"/>
<path d="M387,836 Q395,840 404,835" stroke-width="1.2"/>
<circle cx="381.8" cy="822.6" r="1" fill="#000"/><circle cx="404.3" cy="814" r="1" fill="#000"/><circle cx="393.5" cy="842.4" r="1" fill="#000"/>
<path d="M420,832 a2,2 0 1 0 3,2.5" stroke-width="1.2"/>
<path d="M380.9,834.7 L380,839.2 L370.1,843.7 L354.8,850.9 L355.25,856.3" stroke-width="1.4" stroke-dasharray="5,3"/>
<!-- 42 screw -->
<path d="M354,858 q2.5,1.3 0,2.6 q-2.5,1.3 0,2.6 q2.5,1.3 0,2.6 q-2.5,1.3 0,2.6 q2.5,1.3 0,2.6" stroke-width="1.5"/>
<path d="M350,875.5 Q349,872.5 355,872.3 Q360.5,872.5 360,875.5 Q359.5,879.5 355,879.8 Q350.5,879.5 350,875.5 Z M350.5,876 L359.5,876" stroke-width="1.6"/>
<!-- 23 lower -->
<path d="M388,860.5 Q388,857.5 394,857.2 Q400.5,857.5 400.5,860.5 Q400,864 394,864.2 Q388,864 388,860.5 Z M390,864 L390,869.5 Q394,872 398.5,869.5 L398.5,864" stroke-width="1.6"/>
<path d="M392,857.5 L393,861 M396,857.5 L395,861 M390,859.5 L398.5,859.5" stroke-width="1.3"/>
<!-- 43 rod -->
<path d="M290.8,929.5 Q288.5,939.5 295,939 L320,930 M369,907.8 L388,900 Q394.5,897 394.6,887" stroke="#000" stroke-width="5.5"/>
<path d="M290.8,929.5 Q288.5,939.5 295,939 L320,930 M369,907.8 L388,900 Q394.5,897 394.6,887" stroke="#fff" stroke-width="2.6"/>
<path d="M331,924.5 L352,913.5" stroke="#000" stroke-width="7.5" stroke-linecap="butt"/>
<path d="M331,924.5 L352,913.5" stroke="#fff" stroke-width="4.4" stroke-linecap="butt"/>
<path d="M352,909.5 L363.5,905 L366,912.5 L354.5,917 Z" stroke-width="1.5" fill="#fff"/>
<path d="M363.5,905.5 L366,912 M365.8,904.6 L368.2,911.2 M368,903.8 L370.2,910.2" stroke-width="1.4"/>
<path d="M320,920.5 L326,918.5 L331.5,921 L332,928 L326.5,930.5 L320.5,928 Z M323.5,919.5 Q321.5,924.5 324,929.5 M328.5,919.5 Q327,925 329.5,929.5" stroke-width="1.6" fill="#fff"/>
<!-- 44 tube -->
<path d="M210,846.7 V865" stroke-width="1.4"/>
<path d="M195,862.6 L243.6,880.6 M190.5,887.8 L236.4,903" stroke-width="1.8"/>
<path d="M243.6,880.6 Q247.5,879 249.8,881.5 L240,906.8 Q237.5,909.5 235.5,906.5 Z" stroke-width="1.7"/>
<ellipse cx="191" cy="874.4" rx="8" ry="12.6" transform="rotate(20 191 874.4)" stroke-width="1.8"/>
<path d="M196.5,864 Q200,872 193.5,886" stroke-width="1.3"/>
<ellipse cx="176.5" cy="869" rx="4.3" ry="5.4" stroke-width="1.7"/>
<path d="M179,864.5 L189,867.5 M178.5,874 L186,878.5 M181.5,867 L188,869.5 M182,871.5 L187.5,873.5" stroke-width="1.4"/>
<path d="M206.7,875.2 L222.9,882.4 M204,878.8 L231.9,889.6 M204.9,883.3 L218.4,888.7 M216.6,871.6 L238.2,885.1 M211.2,892.3 L232,897" stroke-width="1.3"/>

</g>
<g>
<text x="267.8" y="54.7" textLength="6.6" lengthAdjust="spacingAndGlyphs">7</text>
<text x="481.0" y="32.5">2</text>
<text x="456.0" y="54.4">3</text>
<text x="519.6" y="54.0">4</text>
<text x="518.0" y="151.0">5</text>
<text x="546.6" y="151.0">6</text>
<text x="537.4" y="175.0" textLength="6.6" lengthAdjust="spacingAndGlyphs">7</text>
<text x="411.8" y="185.0">8</text>
<text x="216.0" y="207.6">9</text>
<text x="230.4" y="227.0" textLength="16.2" lengthAdjust="spacingAndGlyphs">&#x2007;0</text>
<text x="437.4" y="213.0" textLength="15.2" lengthAdjust="spacingAndGlyphs">&#x2007;0</text>
<text x="604.4" y="337.5" textLength="16.2" lengthAdjust="spacingAndGlyphs">&#x2007;2</text>
<text x="643.1" y="337.5" textLength="16.2" lengthAdjust="spacingAndGlyphs">&#x2007;3</text>
<text x="675.4" y="337.5" textLength="16.2" lengthAdjust="spacingAndGlyphs">&#x2007;4</text>
<text x="623.4" y="449.5" textLength="15.9" lengthAdjust="spacingAndGlyphs">&#x2007;5</text>
<text x="571.0" y="531.0" textLength="14.6" lengthAdjust="spacingAndGlyphs">&#x2007;6</text>
<text x="534.4" y="531.0" textLength="14.2" lengthAdjust="spacingAndGlyphs">&#x2007;7</text>
<text x="369.4" y="522.5" textLength="17.2" lengthAdjust="spacingAndGlyphs">&#x2007;8</text>
<text x="282.4" y="662.0" textLength="15.2" lengthAdjust="spacingAndGlyphs">&#x2007;9</text>
<text x="364.4" y="627.0" textLength="18.2" lengthAdjust="spacingAndGlyphs">20</text>
<text x="496.4" y="567.0" textLength="16.2" lengthAdjust="spacingAndGlyphs">2&#x2007;</text>
<text x="553.0" y="565.5" textLength="18.6" lengthAdjust="spacingAndGlyphs">22</text>
<text x="458.4" y="673.0" textLength="18.2" lengthAdjust="spacingAndGlyphs">23</text>
<text x="438.4" y="747.0" textLength="18.2" lengthAdjust="spacingAndGlyphs">23</text>
<text x="679.8" y="566.4" textLength="18.0" lengthAdjust="spacingAndGlyphs">23</text>
<text x="748.4" y="566.4" textLength="19.2" lengthAdjust="spacingAndGlyphs">24</text>
<text x="784.4" y="566.4" textLength="16.2" lengthAdjust="spacingAndGlyphs">25</text>
<text x="810.4" y="568.0" textLength="18.2" lengthAdjust="spacingAndGlyphs">26</text>
<text x="689.4" y="742.0" textLength="17.2" lengthAdjust="spacingAndGlyphs">27</text>
<text x="666.4" y="727.0" textLength="18.2" lengthAdjust="spacingAndGlyphs">28</text>
<text x="645.0" y="716.4" textLength="18.0" lengthAdjust="spacingAndGlyphs">29</text>
<text x="621.0" y="707.0" textLength="19.2" lengthAdjust="spacingAndGlyphs">30</text>
<text x="600.4" y="698.4" textLength="17.2" lengthAdjust="spacingAndGlyphs">3&#x2007;</text>
<text x="574.4" y="685.0" textLength="18.2" lengthAdjust="spacingAndGlyphs">32</text>
<text x="548.4" y="676.0" textLength="19.2" lengthAdjust="spacingAndGlyphs">33</text>
<text x="480.4" y="787.6" textLength="19.2" lengthAdjust="spacingAndGlyphs">34</text>
<text x="514.4" y="787.6" textLength="19.2" lengthAdjust="spacingAndGlyphs">35</text>
<text x="545.4" y="811.0" textLength="21.2" lengthAdjust="spacingAndGlyphs">36</text>
<text x="545.4" y="834.0" textLength="19.2" lengthAdjust="spacingAndGlyphs">37</text>
<text x="633.4" y="895.6" textLength="19.2" lengthAdjust="spacingAndGlyphs">38</text>
<text x="500.4" y="948.0" textLength="19.2" lengthAdjust="spacingAndGlyphs">39</text>
<text x="385.4" y="798.6" textLength="19.2" lengthAdjust="spacingAndGlyphs">40</text>
<text x="344.0" y="798.6" textLength="18.1" lengthAdjust="spacingAndGlyphs">4&#x2007;</text>
<text x="309.4" y="871.4" textLength="20.2" lengthAdjust="spacingAndGlyphs">42</text>
<text x="363.4" y="871.0" textLength="18.2" lengthAdjust="spacingAndGlyphs">23</text>
<text x="309.4" y="900.0" textLength="20.2" lengthAdjust="spacingAndGlyphs">43</text>
<text x="201.0" y="845.4" textLength="19.4" lengthAdjust="spacingAndGlyphs">44</text>
<text x="721.4" y="852.0" textLength="19.2" lengthAdjust="spacingAndGlyphs">23</text>
<text x="448.0" y="863.0" textLength="18.6" lengthAdjust="spacingAndGlyphs">23</text>
<path d="M287.5,21.0 L290.0,18.0 L290.6,18.0 L290.6,29.8 M231.8,218.2 L234.3,215.2 L234.9,215.2 L234.9,227.0 M262.1,236.2 L264.6,233.2 L265.2,233.2 L265.2,245.0 M269.7,236.2 L272.2,233.2 L272.8,233.2 L272.8,245.0 M438.5,204.2 L441.0,201.2 L441.6,201.2 L441.6,213.0 M458.1,225.2 L460.6,222.2 L461.2,222.2 L461.2,234.0 M465.7,225.2 L468.2,222.2 L468.8,222.2 L468.8,234.0 M605.7,328.7 L608.2,325.7 L608.8,325.7 L608.8,337.5 M644.5,328.7 L647.0,325.7 L647.6,325.7 L647.6,337.5 M676.7,328.7 L679.2,325.7 L679.8,325.7 L679.8,337.5 M624.7,440.7 L627.2,437.7 L627.8,437.7 L627.8,449.5 M571.9,522.2 L574.4,519.2 L575.0,519.2 L575.0,531.0 M535.2,522.2 L537.7,519.2 L538.3,519.2 L538.3,531.0 M371.0,513.7 L373.5,510.7 L374.1,510.7 L374.1,522.5 M283.5,653.2 L286.0,650.2 L286.6,650.2 L286.6,662.0 M505.9,558.2 L508.4,555.2 L508.9,555.2 L508.9,567.0 M610.6,689.6 L613.1,686.6 L613.7,686.6 L613.7,698.4 M354.9,789.8 L357.4,786.8 L358.0,786.8 L358.0,798.6" fill="none" stroke="#000" stroke-width="1.85" stroke-linejoin="miter" stroke-linecap="butt"/>
</g>
</svg>
</body></html>
